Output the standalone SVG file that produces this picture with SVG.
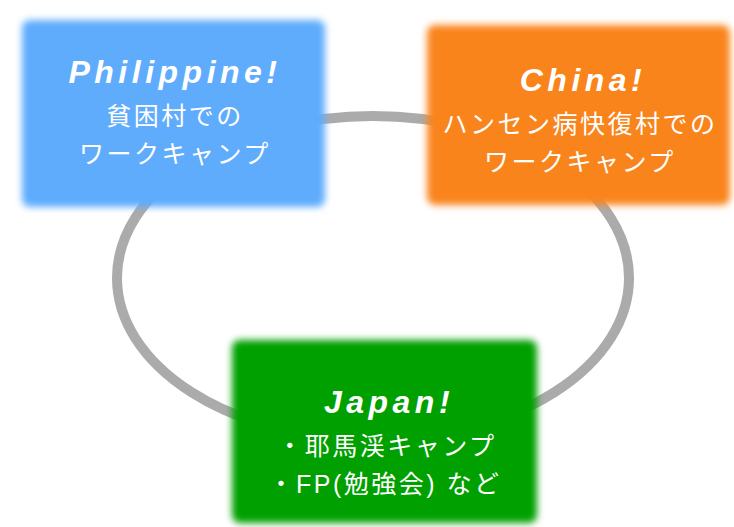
<svg xmlns="http://www.w3.org/2000/svg" width="734" height="527" viewBox="0 0 734 527">
<defs>
<filter id="soft" x="-10%" y="-10%" width="120%" height="120%"><feGaussianBlur stdDeviation="3.5"/></filter>
</defs>
<style>
.title{font-family:"Liberation Sans",Arial,sans-serif;font-style:italic;font-weight:bold;font-size:32px;fill:#fff;letter-spacing:4.5px;text-anchor:middle}
.jp{font-family:"Liberation Sans","Noto Sans CJK JP",sans-serif;font-size:25px;fill:#fff;letter-spacing:2.5px;text-anchor:middle}
.ring{fill:none;stroke:#ababab;stroke-width:10}
</style>
<rect width="734" height="527" fill="#fff"/>
<g id="connectors">
<ellipse class="ring" cx="373" cy="278" rx="256" ry="162"/>
</g>
<g id="philippine">
<rect x="22" y="20" width="303" height="187" rx="8" fill="#5eacfc" filter="url(#soft)"/>
<text class="title" x="175" y="83">Philippine!</text>
<text class="jp" x="175" y="125">貧困村での</text>
<text class="jp" x="175" y="163">ワークキャンプ</text>
</g>
<g id="china">
<rect x="427" y="25" width="303" height="180" rx="8" fill="#f9841c" filter="url(#soft)"/>
<text class="title" x="583" y="91">China!</text>
<text class="jp" x="580" y="133">ハンセン病快復村での</text>
<text class="jp" x="580" y="171">ワークキャンプ</text>
</g>
<g id="japan">
<rect x="232" y="340" width="305" height="183" rx="8" fill="#02a002" filter="url(#soft)"/>
<text class="title" x="389" y="413">Japan!</text>
<text class="jp" x="387" y="455">・耶馬渓キャンプ</text>
<text class="jp" x="385" y="493">・FP(勉強会) など</text>
</g>
</svg>
